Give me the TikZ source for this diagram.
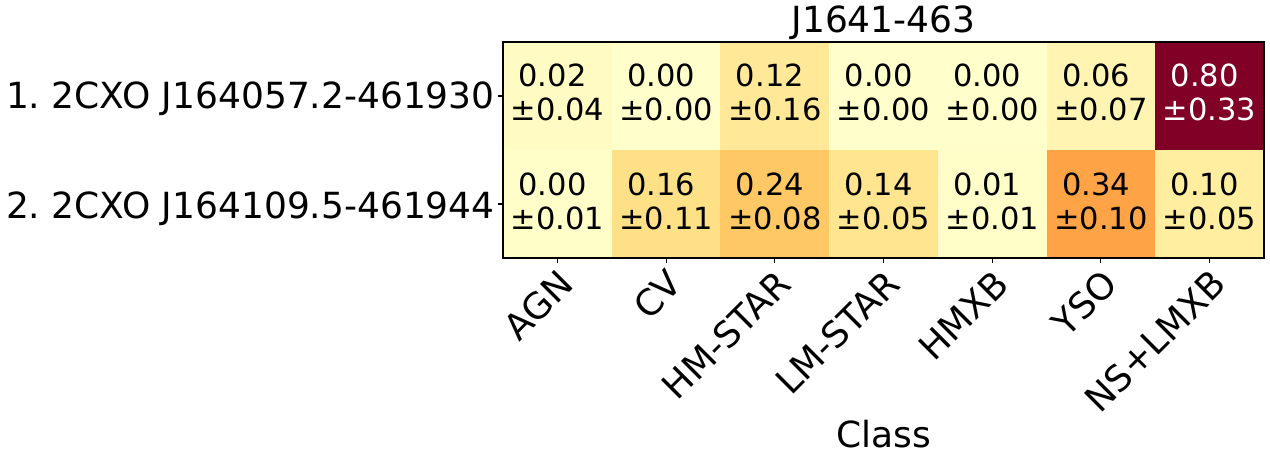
\documentclass[tikz,border=0pt]{standalone}
\usepackage{fontspec}
\setmainfont{DejaVu Sans}
\frenchspacing

% colores del mapa (YlOrRd)
\definecolor{c000}{RGB}{255,255,204}
\definecolor{c001}{RGB}{255,253,200}
\definecolor{c002}{RGB}{255,251,195}
\definecolor{c006}{RGB}{255,244,178}
\definecolor{c010}{RGB}{255,237,160}
\definecolor{c012}{RGB}{255,233,152}
\definecolor{c014}{RGB}{255,229,143}
\definecolor{c016}{RGB}{254,225,135}
\definecolor{c024}{RGB}{254,201,101}
\definecolor{c034}{RGB}{254,163,70}
\definecolor{c080}{RGB}{128,0,38}

\begin{document}
\begin{tikzpicture}[x=1pt,y=-1pt,
		val/.style={align=center,inner sep=0,font=\fontsize{30.5}{34}\selectfont},
		lab/.style={inner sep=0,font=\fontsize{36}{40}\selectfont},
		axis/.style={line width=1.1pt,black}]
		\useasboundingbox (0,0) rectangle (1270,462);
		
		% fila 1
		\foreach \i/\v/\e/\c/\t in {1/0.02/0.04/c002/black,2/0.00/0.00/c000/black,
			3/0.12/0.16/c012/black,4/0.00/0.00/c000/black,5/0.00/0.00/c000/black,
			6/0.06/0.07/c006/black,7/0.80/0.33/c080/white}{
			\fill[\c] ({503+(\i-1)*108.714},42) rectangle ++(108.714,108);
			\node[val,text=\t,anchor=base] (a\i) at ({557.36+(\i-1)*108.714},120.7) {\v\kern.32em\\±\e};
		}
		
		% fila 2
		\foreach \i/\v/\e/\c/\t in {1/0.00/0.01/c001/black,2/0.16/0.11/c016/black,
			3/0.24/0.08/c024/black,4/0.14/0.05/c014/black,5/0.01/0.01/c001/black,
			6/0.34/0.10/c034/black,7/0.10/0.05/c010/black}{
			\fill[\c] ({503+(\i-1)*108.714},150) rectangle ++(108.714,108);
			\node[val,text=\t,anchor=base] (b\i) at ({557.36+(\i-1)*108.714},229.3) {\v\kern.32em\\±\e};
		}
		
		% ejes
		\draw[axis] (503,42) rectangle (1264,258);
		\foreach \i in {0,...,6}
			\draw[axis] ({557.36+\i*108.714},258) -- ++(0,4.9);
		\draw[axis] (503,96) -- ++(-4.9,0);
		\draw[axis] (503,204) -- ++(-4.9,0);
		
		% fuentes
		\node[lab,anchor=base east] (s1) at (495,109) {1. 2CXO J164057.2-461930};
		\node[lab,anchor=base east] (s2) at (495,218.7) {2. 2CXO J164109.5-461944};
		
		% clases
		\foreach \i/\n in {0/AGN,1/CV,2/HM-STAR,3/LM-STAR,4/HMXB,5/YSO,6/NS+LMXB}
			\node[lab,rotate=45,anchor=base east] (k\i) at ({575.76+\i*108.714},286.4) {\n};
		
		\node[lab,anchor=base] (titulo) at (883.5,33) {J1641-463};
		\node[lab,anchor=base] (clase) at (883.5,447) {Class};
	\end{tikzpicture}
\end{document}
